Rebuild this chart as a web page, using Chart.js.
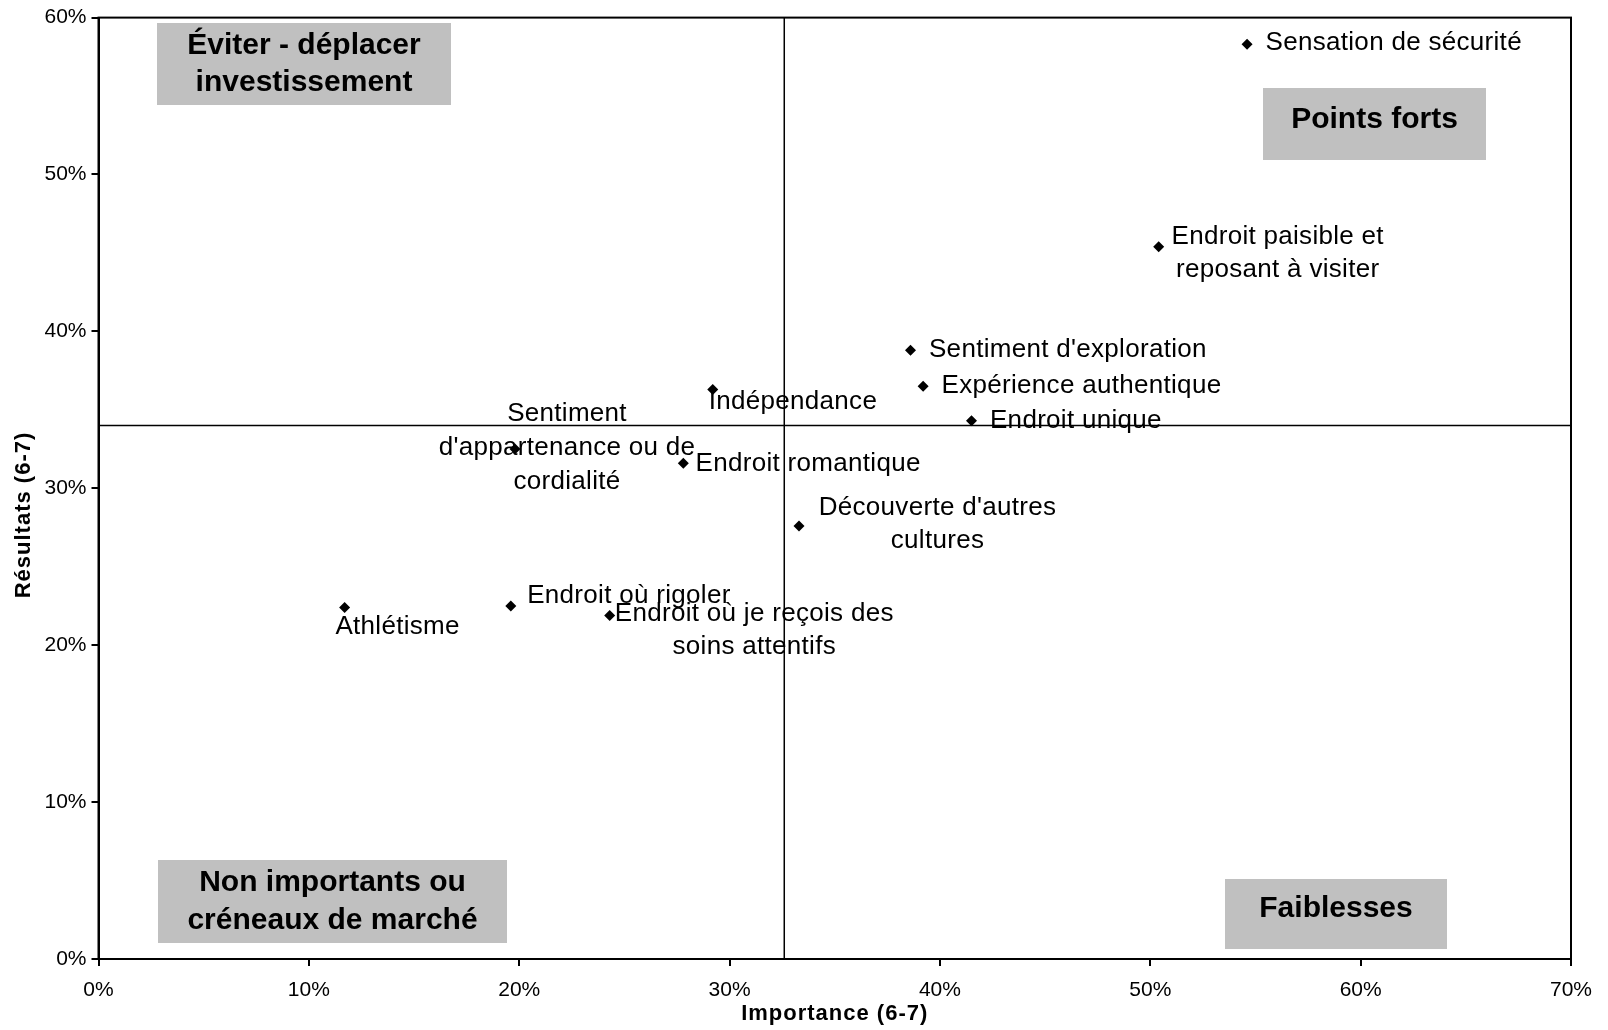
<!DOCTYPE html>
<html lang="fr">
<head>
<meta charset="utf-8">
<title>Importance vs Résultats</title>
<script src="https://cdn.jsdelivr.net/npm/chart.js@4.4.1/dist/chart.umd.min.js"></script>
<style>
  html, body { margin: 0; padding: 0; background: #fff; }
  #wrap { width: 1608px; height: 1030px; }
</style>
</head>
<body>
<div id="wrap"><canvas id="c" width="1608" height="1030"></canvas></div>
<script>
// Attributes (one line per text row of the label)
const attributeLabels = [
  ["Sensation de sécurité"],
  ["Endroit paisible et", "reposant à visiter"],
  ["Sentiment d'exploration"],
  ["Expérience authentique"],
  ["Endroit unique"],
  ["Indépendance"],
  ["Sentiment", "d'appartenance ou de", "cordialité"],
  ["Endroit romantique"],
  ["Découverte d'autres", "cultures"],
  ["Athlétisme"],
  ["Endroit où rigoler"],
  ["Endroit où je reçois des", "soins attentifs"]
];
// Importance (6-7), share of respondents
const importance = [0.546, 0.504, 0.386, 0.392, 0.415, 0.292, 0.198, 0.278, 0.333, 0.117, 0.196, 0.243];
// Résultats (6-7), share of respondents
const resultats  = [0.583, 0.454, 0.388, 0.365, 0.343, 0.363, 0.325, 0.316, 0.276, 0.224, 0.225, 0.219];

// Quadrant split values
const importanceSplit = 0.326;
const resultatsSplit = 0.340;

// Axis ticks
const xTicks = [0, 0.1, 0.2, 0.3, 0.4, 0.5, 0.6, 0.7];
const yTicks = [0, 0.1, 0.2, 0.3, 0.4, 0.5, 0.6];

// Quadrant captions
const quadrantNames = [
  ["Éviter - déplacer", "investissement"],
  ["Points forts"],
  ["Non importants ou", "créneaux de marché"],
  ["Faiblesses"]
];

// Label placement relative to each point (pixels): align, dx, dy of first row
const labelPlacement = [
  ["left", 18.5, -1], ["center", 119, -10.3], ["left", 18.5, 0], ["left", 18.5, 0],
  ["left", 18.5, 0], ["left", -4, 12.3], ["center", 52, -35], ["left", 12.3, 1],
  ["center", 138.5, -18.5], ["center", 53, 19.5], ["left", 16.4, -10.3], ["center", 144.6, -2]
];
const labelLineHeight = 33.8;

// Caption boxes in canvas pixels: left, top, right, bottom, first row y, row gap
const captionBoxes = [
  [157, 23, 451, 105, 46, 37],
  [1263, 88, 1486, 160, 120, 0],
  [158, 860, 507, 943, 883, 38],
  [1225, 879, 1447, 949, 909, 0]
];

const FONT = "'Liberation Sans', Arial, Helvetica, sans-serif";

const points = importance.map((v, i) => ({ x: v, y: resultats[i] }));

const overlay = {
  id: 'overlay',
  beforeDatasetsDraw(chart) {
    const { ctx } = chart;
    ctx.save();
    // caption boxes
    captionBoxes.forEach((b, i) => {
      ctx.fillStyle = '#c0c0c0';
      ctx.fillRect(b[0], b[1], b[2] - b[0], b[3] - b[1]);
      ctx.fillStyle = '#000';
      ctx.font = 'bold 30px ' + FONT;
      ctx.textAlign = 'center';
      ctx.textBaseline = 'middle';
      const cx = (b[0] + b[2]) / 2;
      quadrantNames[i].forEach((line, j) => {
        ctx.fillText(line, cx, b[4] + j * b[5]);
      });
    });
    ctx.restore();
  },
  afterDatasetsDraw(chart) {
    const { ctx, chartArea: a, scales: { x, y } } = chart;
    ctx.save();
    // point labels
    ctx.fillStyle = '#000';
    ctx.font = '26px ' + FONT;
    ctx.letterSpacing = '0.3px';
    ctx.textBaseline = 'middle';
    points.forEach((p, i) => {
      const px = x.getPixelForValue(p.x);
      const py = y.getPixelForValue(p.y);
      const [align, dx, dy] = labelPlacement[i];
      ctx.textAlign = align;
      attributeLabels[i].forEach((line, j) => {
        ctx.fillText(line, px + dx, py + dy + j * labelLineHeight);
      });
    });
    // quadrant split lines
    ctx.strokeStyle = '#000';
    ctx.lineWidth = 1.5;
    const sx = x.getPixelForValue(importanceSplit);
    const sy = y.getPixelForValue(resultatsSplit);
    ctx.beginPath();
    ctx.moveTo(sx, a.top); ctx.lineTo(sx, a.bottom);
    ctx.moveTo(a.left, sy); ctx.lineTo(a.right, sy);
    ctx.stroke();
    // frame
    ctx.lineWidth = 2;
    ctx.strokeRect(a.left, a.top, a.right - a.left, a.bottom - a.top);
    // axis titles
    ctx.font = 'bold 22px ' + FONT;
    ctx.letterSpacing = '1px';
    ctx.textAlign = 'center';
    ctx.textBaseline = 'middle';
    ctx.fillText('Importance (6-7)', (a.left + a.right) / 2, 1014);
    ctx.translate(24, 515);
    ctx.rotate(-Math.PI / 2);
    ctx.fillText('Résultats (6-7)', 0, 0);
    ctx.restore();
  }
};

const pct = v => Math.round(v * 100) + '%';

new Chart(document.getElementById('c'), {
  type: 'scatter',
  data: {
    datasets: [{
      data: points,
      pointStyle: 'rectRot',
      pointRadius: 5.5,
      pointHoverRadius: 5.5,
      backgroundColor: '#000',
      borderColor: '#000',
      borderWidth: 0
    }]
  },
  options: {
    responsive: false,
    animation: false,
    devicePixelRatio: 1,
    layout: { padding: { top: 17, right: 37, left: 0, bottom: 0 } },
    plugins: { legend: { display: false }, tooltip: { enabled: false } },
    font: { family: FONT },
    scales: {
      x: {
        type: 'linear',
        min: 0, max: 0.7,
        afterBuildTicks: s => { s.ticks = xTicks.map(v => ({ value: v })); },
        afterFit: s => { s.height = 71; },
        ticks: { callback: pct, color: '#000', font: { family: FONT, size: 21 }, padding: 12, maxRotation: 0 },
        grid: { drawOnChartArea: false, drawTicks: true, tickLength: 7, color: '#000', lineWidth: 2 },
        border: { display: true, color: '#000', width: 2 }
      },
      y: {
        type: 'linear',
        min: 0, max: 0.6,
        afterBuildTicks: s => { s.ticks = yTicks.map(v => ({ value: v })); },
        afterFit: s => { s.width = 98.5; },
        ticks: { callback: pct, color: '#000', font: { family: FONT, size: 21 }, padding: 5 },
        grid: { drawOnChartArea: false, drawTicks: true, tickLength: 7, color: '#000', lineWidth: 2 },
        border: { display: true, color: '#000', width: 2 }
      }
    }
  },
  plugins: [overlay]
});
</script>
</body>
</html>
